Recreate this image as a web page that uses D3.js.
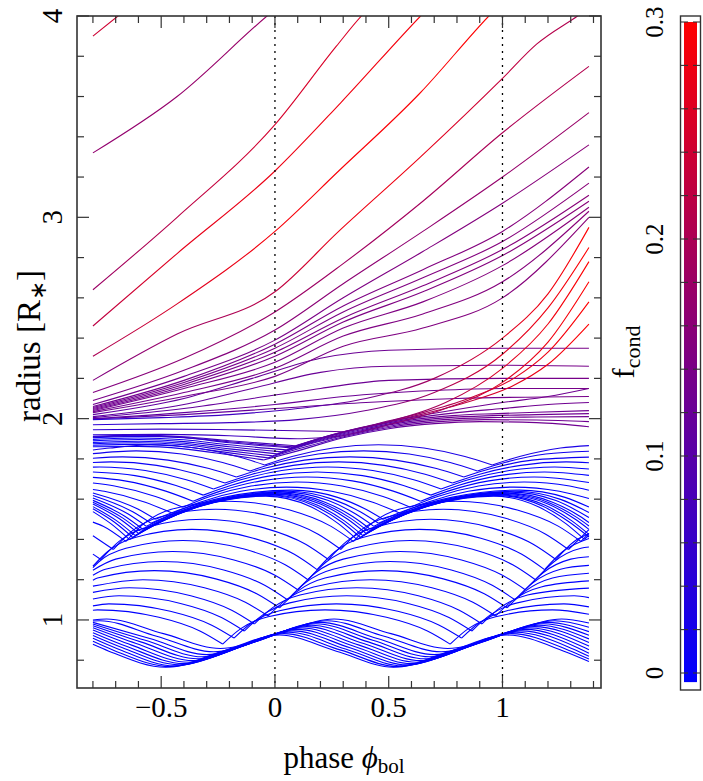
<!DOCTYPE html>
<html><head><meta charset="utf-8">
<script src="https://cdn.jsdelivr.net/npm/d3@7"></script>
<style>body{margin:0;background:#fff}svg{display:block}text{font-family:"Liberation Serif",serif;fill:#000}</style>
</head><body><svg id="c" width="703" height="781"></svg>
<script>
// ---------- axis / tick data ----------
const xMajorTicks = [-0.5, 0, 0.5, 1];
const xTickLabels = ["\u22120.5", "0", "0.5", "1"];
const yMajorTicks = [1, 2, 3, 4];
const yTickLabels = ["1", "2", "3", "4"];
const cbMajorTicks = [0, 0.1, 0.2, 0.3];
const cbTickLabels = ["0", "0.1", "0.2", "0.3"];
const refPhases = [0, 1];

// ---------- shell trajectories: [phase, radius, kink?] ----------
const bottomShells = [
 [[-.8,.879],[-.73,.845],[-.48,.765],[-.23,.845],[.02,.925],[.27,.845],[.52,.765],[.77,.845],[1.02,.925],[1.27,.845],[1.38,.794]],
 [[-.8,.894],[-.71,.85],[-.46,.768],[-.21,.85],[.04,.932],[.29,.85],[.54,.768],[.79,.85],[1.04,.932],[1.29,.85],[1.38,.806]],
 [[-.8,.909],[-.69,.856],[-.44,.772],[-.19,.856],[.06,.939],[.31,.856],[.56,.772],[.81,.856],[1.06,.939],[1.31,.856],[1.38,.82]],
 [[-.8,.923],[-.67,.862],[-.42,.777],[-.17,.862],[.08,.946],[.33,.862],[.58,.777],[.83,.862],[1.08,.946],[1.33,.862],[1.38,.835]],
 [[-.8,.937],[-.65,.868],[-.4,.783],[-.15,.868],[.1,.953],[.35,.868],[.6,.783],[.85,.868],[1.1,.953],[1.35,.868],[1.38,.852]],
 [[-.8,.95],[-.63,.875],[-.38,.79],[-.13,.875],[.12,.96],[.37,.875],[.62,.79],[.87,.875],[1.12,.96],[1.38,.87]],
 [[-.8,.961],[-.61,.883],[-.36,.798],[-.11,.883],[.14,.967],[.39,.883],[.64,.798],[.89,.883],[1.14,.967],[1.38,.888]],
 [[-.8,.971],[-.59,.891],[-.34,.807],[-.09,.891],[.16,.974],[.41,.891],[.66,.807],[.91,.891],[1.16,.974],[1.38,.906]],
 [[-.8,.98],[-.57,.899],[-.32,.817],[-.07,.899],[.18,.981],[.43,.899],[.68,.817],[.93,.899],[1.18,.981],[1.38,.924]],
 [[-.8,.988],[-.55,.908],[-.3,.828],[-.05,.908],[.2,.988],[.45,.908],[.7,.828],[.95,.908],[1.2,.988],[1.38,.942]],
 [[-.8,.995],[-.77,.996],[-.52,.919],[-.27,.842],[-.02,.919],[.23,.996],[.48,.919],[.73,.842],[.98,.919],[1.23,.996],[1.38,.964]],
 [[-.8,1.0],[-.74,1.005],[-.49,.932],[-.24,.858],[.01,.932],[.26,1.005],[.51,.932],[.76,.858],[1.01,.932],[1.26,1.005],[1.38,.985]]
];
const innerShells = [
 [[-.8,1.048],[-.78,1.05],[-.51,1.013],[-.33,.945],[-.23,.88,1],[-.15,.957],[-.03,1.016],[.22,1.05],[.49,1.013],[.67,.945],[.77,.88,1],[.85,.957],[.97,1.016],[1.22,1.05],[1.38,1.028]],
 [[-.8,1.07],[-.73,1.08],[-.46,1.043],[-.28,.975],[-.18,.91,1],[-.1,.987],[.02,1.046],[.27,1.08],[.54,1.043],[.72,.975],[.82,.91,1],[.9,.987],[1.02,1.046],[1.27,1.08],[1.38,1.065]],
 [[-.8,1.104],[-.685,1.12],[-.415,1.082],[-.235,1.012],[-.135,.945,1],[-.055,1.024],[.065,1.085],[.315,1.12],[.585,1.082],[.765,1.012],[.865,.945,1],[.945,1.024],[1.065,1.085],[1.315,1.12],[1.38,1.111]],
 [[-.8,1.137],[-.64,1.16],[-.37,1.12],[-.19,1.048],[-.09,.98,1],[-.01,1.061],[.11,1.124],[.36,1.16],[.63,1.12],[.81,1.048],[.91,.98,1],[.99,1.061],[1.11,1.124],[1.38,1.158]],
 [[-.8,1.168],[-.58,1.2],[-.31,1.16],[-.13,1.088],[-.03,1.02,1],[.05,1.101],[.17,1.164],[.42,1.2],[.69,1.16],[.87,1.088],[.97,1.02,1],[1.05,1.101],[1.17,1.164],[1.38,1.194]],
 [[-.8,1.197],[-.78,1.208],[-.53,1.245],[-.26,1.204],[-.08,1.13],[.02,1.06,1],[.1,1.143],[.22,1.208],[.47,1.245],[.74,1.204],[.92,1.13],[1.02,1.06,1],[1.1,1.143],[1.22,1.208],[1.38,1.232]],
 [[-.8,1.222],[-.745,1.252],[-.495,1.29],[-.225,1.248],[-.045,1.172],[.055,1.1,1],[.135,1.186],[.255,1.252],[.505,1.29],[.775,1.248],[.955,1.172],[1.055,1.1,1],[1.135,1.186],[1.255,1.252],[1.38,1.271]],
 [[-.8,1.247],[-.7,1.302],[-.45,1.34],[-.18,1.298],[0,1.222],[.1,1.15,1],[.18,1.236],[.3,1.302],[.55,1.34],[.82,1.298],[1.0,1.222],[1.1,1.15,1],[1.18,1.236],[1.3,1.302],[1.38,1.314]],
 [[-.8,1.26],[-.775,1.288],[-.655,1.356],[-.405,1.395],[-.135,1.352],[.045,1.274],[.145,1.2,1],[.225,1.288],[.345,1.356],[.595,1.395],[.865,1.352],[1.045,1.274],[1.145,1.2,1],[1.225,1.288],[1.345,1.356],[1.38,1.362]],
 [[-.8,1.267],[-.735,1.34],[-.615,1.41],[-.365,1.45],[-.095,1.406],[.085,1.326],[.185,1.25,1],[.265,1.34],[.385,1.41],[.635,1.45],[.905,1.406],[1.085,1.326],[1.185,1.25,1],[1.265,1.34],[1.38,1.405]],
 [[-.8,1.327],[-.765,1.3,1],[-.685,1.39],[-.565,1.46],[-.315,1.5],[-.045,1.456],[.135,1.376],[.235,1.3,1],[.315,1.39],[.435,1.46],[.685,1.5],[.955,1.456],[1.135,1.376],[1.235,1.3,1],[1.315,1.39],[1.38,1.428]],
 [[-.8,1.418],[-.71,1.35,1],[-.63,1.44],[-.51,1.51],[-.26,1.55],[.01,1.506],[.19,1.426],[.29,1.35,1],[.37,1.44],[.49,1.51],[.74,1.55],[1.01,1.506],[1.19,1.426],[1.29,1.35,1],[1.38,1.449]],
 [[-.8,1.486],[-.755,1.466],[-.655,1.39,1],[-.575,1.48],[-.455,1.55],[-.205,1.59],[.065,1.546],[.245,1.466],[.345,1.39,1],[.425,1.48],[.545,1.55],[.795,1.59],[1.065,1.546],[1.245,1.466],[1.345,1.39,1],[1.38,1.43]]
];
const bandShells = [
 [[-.8,1.538],[-.72,1.477],[-.64,1.4,1],[-.52,1.477],[-.34,1.561],[-.04,1.615],[.16,1.561],[.28,1.477],[.36,1.4,1],[.48,1.477],[.66,1.561],[.96,1.615],[1.16,1.561],[1.28,1.477],[1.36,1.4,1],[1.38,1.42]],
 [[-.8,1.552],[-.705,1.485],[-.625,1.41,1],[-.505,1.485],[-.325,1.566],[-.025,1.618],[.175,1.566],[.295,1.485],[.375,1.41,1],[.495,1.485],[.675,1.566],[.975,1.618],[1.175,1.566],[1.295,1.485],[1.38,1.412]],
 [[-.8,1.563],[-.695,1.492],[-.615,1.42,1],[-.495,1.492],[-.315,1.571],[-.015,1.621],[.185,1.571],[.305,1.492],[.385,1.42,1],[.505,1.492],[.685,1.571],[.985,1.621],[1.185,1.571],[1.305,1.492],[1.38,1.425]],
 [[-.8,1.576],[-.68,1.5],[-.6,1.43,1],[-.48,1.5],[-.3,1.576],[0,1.624],[.2,1.576],[.32,1.5],[.4,1.43,1],[.52,1.5],[.7,1.576],[1.0,1.624],[1.2,1.576],[1.32,1.5],[1.38,1.45]],
 [[-.8,1.585],[-.67,1.507],[-.59,1.44,1],[-.47,1.507],[-.29,1.58],[.01,1.627],[.21,1.58],[.33,1.507],[.41,1.44,1],[.53,1.507],[.71,1.58],[1.01,1.627],[1.21,1.58],[1.33,1.507],[1.38,1.467]],
 [[-.8,1.594],[-.66,1.515],[-.58,1.45,1],[-.46,1.515],[-.28,1.585],[.02,1.63],[.22,1.585],[.34,1.515],[.42,1.45,1],[.54,1.515],[.72,1.585],[1.02,1.63],[1.22,1.585],[1.34,1.515],[1.38,1.484]],
 [[-.8,1.606],[-.645,1.526],[-.565,1.465,1],[-.445,1.526],[-.265,1.593],[.035,1.635],[.235,1.593],[.355,1.526],[.435,1.465,1],[.555,1.526],[.735,1.593],[1.035,1.635],[1.235,1.593],[1.38,1.509]],
 [[-.8,1.618],[-.625,1.537],[-.545,1.48,1],[-.425,1.537],[-.245,1.599],[.055,1.639],[.255,1.599],[.375,1.537],[.455,1.48,1],[.575,1.537],[.755,1.599],[1.055,1.639],[1.255,1.599],[1.38,1.534]],
 [[-.8,1.631],[-.605,1.552],[-.525,1.5,1],[-.405,1.552],[-.225,1.609],[.075,1.645],[.275,1.609],[.395,1.552],[.475,1.5,1],[.595,1.552],[.775,1.609],[1.075,1.645],[1.275,1.609],[1.38,1.561]]
];
const midShells = [
 [[-.8,1.648],[-.75,1.639],[-.57,1.585],[-.45,1.53,1],[-.33,1.585],[-.15,1.639],[.05,1.66],[.25,1.639],[.43,1.585],[.55,1.53,1],[.67,1.585],[.85,1.639],[1.05,1.66],[1.25,1.639],[1.38,1.603]],
 [[-.8,1.68],[-.705,1.665],[-.525,1.613],[-.405,1.56,1],[-.285,1.613],[-.105,1.665],[.095,1.685],[.295,1.665],[.475,1.613],[.595,1.56,1],[.715,1.613],[.895,1.665],[1.095,1.685],[1.295,1.665],[1.38,1.644]],
 [[-.8,1.708],[-.66,1.691],[-.48,1.64],[-.36,1.59,1],[-.24,1.64],[-.06,1.691],[.14,1.71],[.34,1.691],[.52,1.64],[.64,1.59,1],[.76,1.64],[.94,1.691],[1.14,1.71],[1.38,1.683]],
 [[-.8,1.735],[-.615,1.717],[-.435,1.668],[-.315,1.62,1],[-.195,1.668],[-.015,1.717],[.185,1.735],[.385,1.717],[.565,1.668],[.685,1.62,1],[.805,1.668],[.985,1.717],[1.185,1.735],[1.38,1.718]],
 [[-.8,1.759],[-.77,1.76],[-.57,1.742],[-.39,1.696],[-.27,1.65,1],[-.15,1.696],[.03,1.742],[.23,1.76],[.43,1.742],[.61,1.696],[.73,1.65,1],[.85,1.696],[1.03,1.742],[1.23,1.76],[1.38,1.75]],
 [[-.8,1.782],[-.72,1.785],[-.52,1.768],[-.34,1.724],[-.22,1.68,1],[-.1,1.724],[.08,1.768],[.28,1.785],[.48,1.768],[.66,1.724],[.78,1.68,1],[.9,1.724],[1.08,1.768],[1.28,1.785],[1.38,1.781]],
 [[-.8,1.803],[-.67,1.81],[-.47,1.794],[-.29,1.752],[-.17,1.71,1],[-.05,1.752],[.13,1.794],[.33,1.81],[.53,1.794],[.71,1.752],[.83,1.71,1],[.95,1.752],[1.13,1.794],[1.38,1.809]],
 [[-.8,1.826],[-.61,1.84],[-.41,1.824],[-.23,1.782],[-.11,1.74,1],[.01,1.782],[.19,1.824],[.39,1.84],[.59,1.824],[.77,1.782],[.89,1.74,1],[1.01,1.782],[1.19,1.824],[1.38,1.838]],
 [[-.8,1.844],[-.725,1.854],[-.545,1.87],[-.345,1.854],[-.165,1.812],[-.045,1.77,1],[.075,1.812],[.255,1.854],[.455,1.87],[.655,1.854],[.835,1.812],[.955,1.77,1],[1.075,1.812],[1.255,1.854],[1.38,1.866]]
];
const midCond = [0, 0, 0, 0, 0, 0.01, 0.015, 0.02, 0.03];
const frontShells = [
 [[-.8,1.86],[-.6,1.862],[-.4,1.85],[-.2,1.82],[-.05,1.795,1],[.1,1.84],[.3,1.905],[.5,1.95],[.7,1.975],[.9,1.985],[1.15,1.98],[1.38,1.96]],
 [[-.8,1.868],[-.6,1.872],[-.4,1.86],[-.2,1.83],[-.03,1.805,1],[.12,1.855],[.32,1.915],[.52,1.96],[.72,1.985],[.92,1.995],[1.15,1.993],[1.38,1.985]],
 [[-.8,1.875],[-.6,1.88],[-.4,1.87],[-.2,1.84],[-.01,1.815,1],[.14,1.87],[.34,1.925],[.54,1.97],[.74,1.995],[.94,2.005],[1.15,2.008],[1.38,2.01]],
 [[-.8,1.882],[-.6,1.888],[-.4,1.878],[-.2,1.85],[.01,1.825,1],[.16,1.88],[.36,1.935],[.56,1.98],[.76,2.005],[.96,2.015],[1.15,2.02],[1.38,2.025]],
 [[-.8,1.89],[-.6,1.896],[-.4,1.886],[-.2,1.86],[.03,1.835,1],[.18,1.89],[.38,1.945],[.58,1.99],[.78,2.015],[.98,2.025],[1.15,2.032],[1.38,2.04]],
 [[-.8,1.897],[-.6,1.904],[-.4,1.895],[-.2,1.87],[.05,1.845,1],[.2,1.9],[.4,1.955],[.6,2.0],[.8,2.03],[1.0,2.05],[1.2,2.07],[1.38,2.08]],
 [[-.8,1.905],[-.6,1.912],[-.4,1.905],[-.2,1.88],[.07,1.855,1],[.22,1.91],[.42,1.965],[.62,2.01],[.8,2.045],[1.0,2.08],[1.2,2.11],[1.38,2.15]]
];
const frontCond = [[-.8,.005],[-.45,.02],[-.15,.06],[.3,.1],[.8,.13],[1.38,.13]];
const flatShells = [
 [[-.8,2.02],[-.4,2.1],[-.1,2.2],[.2,2.3],[.5,2.34],[1.0,2.35],[1.38,2.35]],
 [[-.8,2.01],[-.4,2.07],[-.1,2.15],[.2,2.23],[.5,2.26],[1.0,2.265],[1.38,2.26]],
 [[-.8,2.005],[-.4,2.05],[-.1,2.1],[.2,2.15],[.5,2.19],[1.0,2.2],[1.38,2.2]],
 [[-.8,2.0],[-.4,2.03],[0,2.07],[.3,2.11],[.7,2.14],[1.0,2.15],[1.38,2.15]],
 [[-.8,1.998],[-.4,2.02],[0,2.05],[.4,2.08],[.8,2.1],[1.38,2.11]]
];
const flatCond = [[-.8,.11],[1.38,.14]];
const dustShells = [
 [[-.8,1.995],[-.5,2.005],[-.2,2.02],[.1,2.05],[.4,2.1],[.7,2.2],[1.0,2.4],[1.2,2.62],[1.38,2.95]],
 [[-.8,1.97],[-.5,1.975],[-.2,1.98],[.1,1.995],[.4,2.04],[.7,2.13],[1.0,2.32],[1.2,2.55],[1.38,2.85]],
 [[-.8,1.945],[-.5,1.948],[-.2,1.945],[.1,1.94],[.3,1.935,1],[.5,1.985],[.75,2.08],[1.0,2.25],[1.2,2.47],[1.38,2.78]],
 [[-.8,1.92],[-.5,1.922],[-.2,1.915],[.1,1.9],[.3,1.915,1],[.5,1.97],[.75,2.05],[1.0,2.18],[1.2,2.38],[1.38,2.68]],
 [[-.8,1.912],[-.6,1.918],[-.4,1.91],[-.2,1.89],[.09,1.865,1],[.25,1.92],[.45,1.975],[.65,2.03],[.85,2.1],[1.05,2.2],[1.2,2.33],[1.38,2.58]],
 [[-.8,1.908],[-.6,1.915],[-.4,1.907],[-.2,1.885],[.08,1.86,1],[.24,1.915],[.44,1.97],[.64,2.02],[.84,2.08],[1.04,2.16],[1.2,2.27],[1.38,2.47]]
];
const dustCond = [[-.8,.05],[0,.08],[.5,.15],[1.0,.26],[1.38,.3]];
const fanShells = [
 [[-.8,2.13],[-.4,2.3],[0,2.53],[.3,2.77],[.65,3.08],[1.0,3.42],[1.38,3.75]],
 [[-.8,2.09],[-.4,2.24],[0,2.44],[.3,2.67],[.65,2.93],[1.0,3.2],[1.38,3.52]],
 [[-.8,2.07],[-.4,2.21],[0,2.39],[.3,2.6],[.65,2.83],[1.0,3.07],[1.38,3.36]],
 [[-.8,2.06],[-.4,2.19],[0,2.37],[.3,2.56],[.65,2.74],[1.0,2.93],[1.38,3.25]],
 [[-.8,2.055],[-.4,2.18],[0,2.35],[.3,2.53],[.65,2.7],[1.0,2.88],[1.38,3.17]],
 [[-.8,2.05],[-.4,2.17],[0,2.33],[.3,2.5],[.65,2.66],[1.0,2.84],[1.38,3.11]],
 [[-.8,2.045],[-.4,2.16],[0,2.31],[.3,2.48],[.65,2.63],[1.0,2.81],[1.38,3.08]],
 [[-.8,2.04],[-.4,2.15],[0,2.28],[.3,2.45],[.65,2.58],[1.0,2.76],[1.38,3.05]],
 [[-.8,2.035],[-.4,2.13],[0,2.25],[.3,2.41],[.65,2.52],[1.0,2.68],[1.38,3.03]],
 [[-.8,2.03],[-.4,2.11],[0,2.21],[.3,2.36],[.65,2.45],[1.0,2.6],[1.38,3.0]]
];
const fanCond = [
 [[-.8,.15],[0,.18],[1.38,.21]],
 [[-.8,.14],[0,.16],[1.38,.18]],
 [[-.8,.13],[1.38,.16]],[[-.8,.13],[1.38,.16]],[[-.8,.13],[1.38,.16]],[[-.8,.13],[1.38,.16]],
 [[-.8,.13],[1.38,.16]],[[-.8,.13],[1.38,.16]],[[-.8,.13],[1.38,.16]],[[-.8,.13],[1.38,.16]]
];
const outerShells = [
 [[-.8,3.9],[-.69,4.0],[-.6,4.08]],
 [[-.8,3.32],[-.43,3.6],[-.035,4.0],[.05,4.08]],
 [[-.8,2.64],[-.43,3.0],[0,3.46],[.27,3.85],[.38,4.0],[.45,4.08]],
 [[-.8,2.46],[-.43,2.82],[0,3.23],[.29,3.57],[.64,4.0],[.7,4.07]],
 [[-.8,2.31],[-.43,2.57],[0,2.93],[.28,3.23],[.64,3.62],[.94,4.0],[1.0,4.07]],
 [[-.8,2.19],[-.43,2.42],[0,2.63],[.28,2.93],[.64,3.3],[1.0,3.69],[1.15,3.86],[1.33,4.0],[1.38,4.04]]
];
const outerCond = [
 [[-.8,.24],[-.6,.25]],
 [[-.8,.17],[.05,.18]],
 [[-.8,.18],[-.4,.22],[0,.25],[.45,.26]],
 [[-.8,.22],[-.4,.27],[.7,.29]],
 [[-.8,.2],[-.4,.26],[0,.29],[1.0,.3]],
 [[-.8,.15],[0,.22],[.3,.28],[.6,.28],[1.0,.23],[1.38,.2]]
];

// ---------- scales ----------
const svg = d3.select("#c");
const x = d3.scaleLinear().domain([-0.87, 1.433]).range([77, 601]);
const y = d3.scaleLinear().domain([0.662, 4]).range([688, 16]);
const cb = d3.scaleLinear().domain([0, 0.3]).range([673, 22]);
const col = d3.scaleLinear().domain([0, 0.3]).range(["#0000ff", "#ff0000"]).clamp(true);
const defs = svg.append("defs");
defs.append("clipPath").attr("id", "clip").append("rect")
  .attr("x", x.range()[0]).attr("y", y.range()[1])
  .attr("width", x.range()[1] - x.range()[0]).attr("height", y.range()[0] - y.range()[1]);

const gLines = svg.append("g").attr("clip-path", "url(#clip)");
const lineGen = d3.line().x(d => x(d[0])).y(d => y(d[1])).curve(d3.curveMonotoneX);
let gid = 0;
function drawShell(pts, cond) {
  const segs = []; let cur = [];
  pts.forEach((pt, i) => {
    cur.push(pt);
    if (pt[2] === 1 && i > 0 && i < pts.length - 1) { segs.push(cur); cur = [pt]; }
  });
  segs.push(cur);
  let stroke;
  if (typeof cond === "number") stroke = col(cond);
  else {
    const id = "sg" + (gid++);
    const x0 = x(pts[0][0]), x1 = x(pts[pts.length - 1][0]);
    const grad = defs.append("linearGradient").attr("id", id)
      .attr("gradientUnits", "userSpaceOnUse")
      .attr("x1", x0).attr("x2", x1).attr("y1", 0).attr("y2", 0);
    cond.forEach(s => grad.append("stop")
      .attr("offset", Math.max(0, Math.min(1, (x(s[0]) - x0) / (x1 - x0))))
      .attr("stop-color", col(s[1])));
    stroke = `url(#${id})`;
  }
  segs.forEach(s => gLines.append("path").attr("d", lineGen(s))
    .attr("fill", "none").attr("stroke", stroke).attr("stroke-width", 1.1));
}
bottomShells.forEach(s => drawShell(s, 0));
innerShells.forEach(s => drawShell(s, 0));
bandShells.forEach(s => drawShell(s, 0));
midShells.forEach((s, i) => drawShell(s, midCond[i]));
frontShells.forEach(s => drawShell(s, frontCond));
flatShells.forEach(s => drawShell(s, flatCond));
dustShells.forEach(s => drawShell(s, dustCond));
fanShells.forEach((s, i) => drawShell(s, fanCond[i]));
outerShells.forEach((s, i) => drawShell(s, outerCond[i]));

// reference phases (dotted)
svg.append("g").selectAll("line").data(refPhases).join("line")
  .attr("x1", d => x(d)).attr("x2", d => x(d))
  .attr("y1", y.range()[1]).attr("y2", y.range()[0])
  .attr("stroke", "#000").attr("stroke-width", 1.3).attr("stroke-dasharray", "2,5");

// ---------- frame & ticks ----------
const axC = "#333";
const gAx = svg.append("g");
gAx.append("rect").attr("x", 77).attr("y", 16).attr("width", 524).attr("height", 672)
  .attr("fill", "none").attr("stroke", axC).attr("stroke-width", 1.6);
const xMinor = d3.range(-8, 15).map(v => v / 10);
xMinor.forEach(v => {
  const major = xMajorTicks.some(m => Math.abs(m - v) < 1e-6);
  const L = major ? 12 : 7;
  gAx.append("line").attr("x1", x(v)).attr("x2", x(v)).attr("y1", 688).attr("y2", 688 - L).attr("stroke", axC).attr("stroke-width", 1.2);
  gAx.append("line").attr("x1", x(v)).attr("x2", x(v)).attr("y1", 16).attr("y2", 16 + L).attr("stroke", axC).attr("stroke-width", 1.2);
});
const yMinor = d3.range(4, 21).map(v => v / 5);
yMinor.forEach(v => {
  const major = yMajorTicks.some(m => Math.abs(m - v) < 1e-6);
  const L = major ? 12 : 7;
  gAx.append("line").attr("x1", 77).attr("x2", 77 + L).attr("y1", y(v)).attr("y2", y(v)).attr("stroke", axC).attr("stroke-width", 1.2);
  gAx.append("line").attr("x1", 601).attr("x2", 601 - L).attr("y1", y(v)).attr("y2", y(v)).attr("stroke", axC).attr("stroke-width", 1.2);
});
xMajorTicks.forEach((v, i) => {
  svg.append("text").attr("x", x(v)).attr("y", 717).attr("text-anchor", "middle")
    .attr("font-size", 29).text(xTickLabels[i]);
});
yMajorTicks.forEach((v, i) => {
  svg.append("text").attr("transform", `translate(62,${y(v)}) rotate(-90)`)
    .attr("text-anchor", "middle").attr("font-size", 29).text(yTickLabels[i]);
});

// axis titles
const xt = svg.append("text").attr("x", 344).attr("y", 768).attr("text-anchor", "middle").attr("font-size", 31);
xt.append("tspan").text("phase ");
xt.append("tspan").attr("font-style", "italic").text("\u03d5");
xt.append("tspan").attr("font-size", 21).attr("dy", 5).text("bol");
const yt = svg.append("text").attr("transform", "translate(40,346) rotate(-90)").attr("text-anchor", "middle").attr("font-size", 33);
yt.append("tspan").text("radius [R");
yt.append("tspan").attr("font-size", 23).attr("dy", 6).text("\u2217");
yt.append("tspan").attr("dy", -6).text("]");

// ---------- colour bar ----------
const grad = defs.append("linearGradient").attr("id", "cbg").attr("x1", 0).attr("x2", 0).attr("y1", 1).attr("y2", 0);
grad.append("stop").attr("offset", 0).attr("stop-color", col(0));
grad.append("stop").attr("offset", 1).attr("stop-color", col(0.3));
svg.append("rect").attr("x", 684).attr("y", cb(0.3)).attr("width", 13).attr("height", cb(-0.0042) - cb(0.3)).attr("fill", "url(#cbg)");
svg.append("rect").attr("x", 680.5).attr("y", 16).attr("width", 20).attr("height", 674)
  .attr("fill", "none").attr("stroke", axC).attr("stroke-width", 1.4);
d3.range(0, 16).map(v => v * 0.02).forEach(v => {
  svg.append("line").attr("x1", 680.5).attr("x2", 688).attr("y1", cb(v)).attr("y2", cb(v)).attr("stroke", axC).attr("stroke-width", 1.1);
  svg.append("line").attr("x1", 693).attr("x2", 700.5).attr("y1", cb(v)).attr("y2", cb(v)).attr("stroke", axC).attr("stroke-width", 1.1);
});
cbMajorTicks.forEach((v, i) => {
  const yy = Math.max(cb(v), 18);
  svg.append("text").attr("transform", `translate(663,${yy}) rotate(-90)`)
    .attr("text-anchor", "middle").attr("font-size", 25).text(cbTickLabels[i]);
});
const ft = svg.append("text").attr("transform", "translate(634,352) rotate(-90)").attr("text-anchor", "middle").attr("font-size", 31);
ft.append("tspan").text("f");
ft.append("tspan").attr("font-size", 22).attr("dy", 6).text("cond");
</script></body></html>
